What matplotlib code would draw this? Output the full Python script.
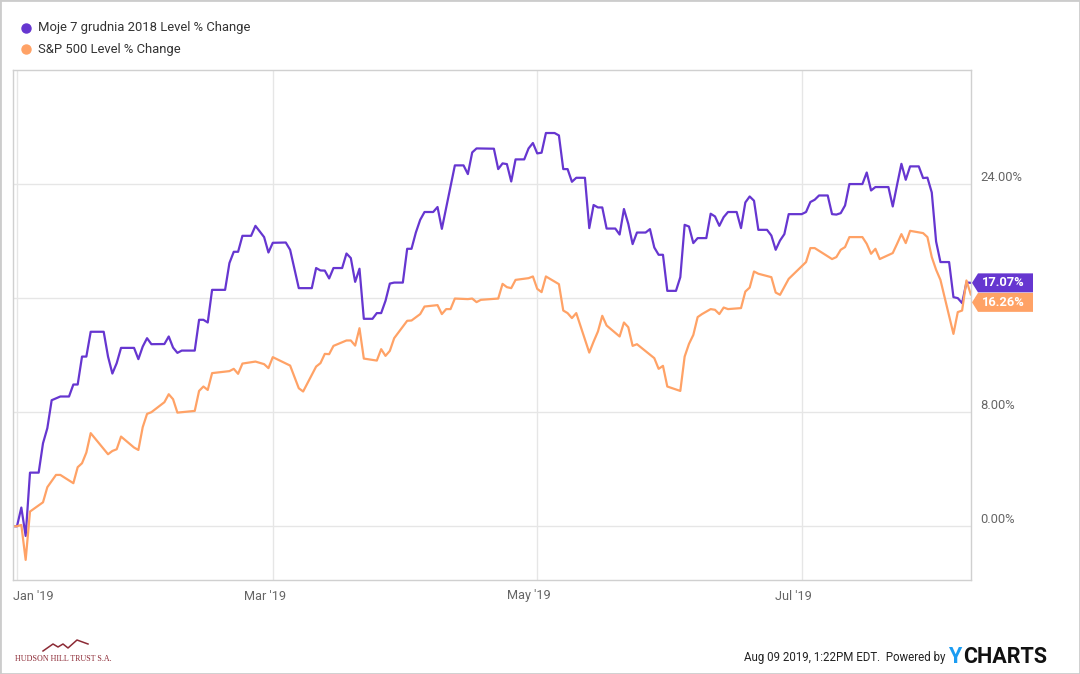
# Moje 7 grudnia 2018 vs S&P 500, % change since Dec 31 2018 (YCharts style)
import matplotlib.pyplot as plt
import matplotlib.dates as mdates
import matplotlib.transforms as mtransforms
from matplotlib.patches import Polygon, Rectangle
from matplotlib.lines import Line2D
import numpy as np

plt.rcParams['font.family'] = ['Roboto', 'DejaVu Sans']

# data: calendar day offsets from 2019-01-01 and % change
start = np.datetime64('2019-01-01')

moje_days = [-1, 0, 1, 2, 3, 5, 6, 7, 8, 10,
             12, 13, 14, 15, 16, 17, 20, 21, 22, 23,
             24, 27, 28, 29, 30, 31, 34, 35, 36, 37,
             38, 41, 42, 43, 44, 45, 48, 49, 50, 51,
             52, 54, 55, 57, 58, 59, 62, 63, 65, 68,
             69, 70, 71, 72, 73, 75, 76, 77, 78, 79,
             80, 82, 83, 84, 85, 86, 87, 89, 90, 91,
             92, 93, 94, 96, 97, 98, 99, 100, 101, 103,
             104, 105, 106, 110, 111, 112, 113, 114, 115, 117,
             118, 119, 120, 121, 122, 124, 125, 126, 127, 128,
             129, 131, 132, 133, 134, 135, 136, 138, 139, 140,
             141, 142, 143, 145, 146, 147, 148, 149, 150, 152,
             153, 154, 155, 156, 157, 159, 160, 161, 162, 163,
             164, 166, 167, 168, 169, 170, 171, 173, 174, 175,
             176, 177, 178, 181, 182, 183, 184, 185, 187, 188,
             189, 190, 191, 192, 195, 196, 197, 198, 201, 202,
             203, 204, 205, 206, 208, 209, 210, 211, 212, 213,
             215, 216, 217, 218, 219, 220]
moje_vals = [0.00, 0.00, 1.31, -0.68, 3.76, 3.76, 5.82, 6.88, 8.84, 9.10,
             9.10, 9.94, 9.94, 11.90, 11.90, 13.64, 13.64, 11.90, 10.71, 11.44,
             12.51, 12.51, 11.72, 12.60, 13.19, 12.77, 12.78, 13.31, 12.53, 12.16,
             12.32, 12.32, 14.48, 14.48, 14.29, 16.58, 16.58, 18.46, 19.25, 19.25,
             20.37, 20.37, 21.07, 20.28, 19.20, 19.88, 19.90, 19.39, 16.70, 16.70,
             18.11, 17.94, 17.93, 17.38, 18.11, 18.11, 19.13, 18.81, 17.14, 18.06,
             14.55, 14.55, 14.95, 14.95, 15.81, 17.02, 17.09, 17.09, 19.46, 19.46,
             20.60, 21.49, 22.04, 22.04, 22.39, 20.86, 22.36, 23.83, 25.31, 25.31,
             24.70, 26.22, 26.50, 26.48, 25.05, 25.45, 25.40, 24.18, 25.73, 25.73,
             26.50, 26.88, 26.15, 26.20, 27.58, 27.58, 27.41, 25.05, 25.05, 24.16,
             24.44, 24.44, 20.91, 22.53, 22.36, 22.36, 20.88, 20.88, 20.46, 22.25,
             21.21, 19.79, 20.60, 20.60, 20.84, 19.55, 19.04, 19.04, 16.51, 16.51,
             17.47, 21.14, 21.02, 19.86, 20.21, 20.21, 21.92, 21.73, 21.07, 21.68,
             22.04, 22.04, 20.91, 22.71, 23.13, 22.83, 20.79, 20.79, 20.39, 19.39,
             20.04, 20.49, 21.89, 21.89, 22.04, 22.74, 22.90, 23.20, 23.20, 21.89,
             21.86, 21.96, 22.50, 24.00, 24.00, 24.81, 23.55, 23.79, 23.79, 22.43,
             23.95, 25.42, 24.30, 25.24, 25.24, 24.42, 24.45, 23.41, 19.97, 18.53,
             18.53, 16.07, 16.00, 15.65, 17.10, 17.07]

spx_days = [-1, 0, 1, 2, 3, 6, 7, 9, 10, 13,
            14, 15, 16, 17, 21, 22, 23, 24, 27, 28,
            29, 30, 31, 34, 35, 36, 37, 41, 42, 43,
            44, 45, 49, 50, 51, 52, 55, 57, 58, 59,
            63, 65, 66, 69, 70, 71, 72, 73, 76, 77,
            78, 79, 80, 83, 84, 85, 86, 87, 90, 91,
            93, 94, 97, 98, 99, 100, 101, 104, 105, 106,
            107, 111, 112, 113, 114, 115, 118, 119, 120, 121,
            122, 125, 126, 127, 128, 129, 132, 133, 134, 135,
            136, 139, 140, 141, 142, 143, 147, 148, 149, 150,
            153, 154, 155, 156, 157, 158, 160, 161, 162, 163,
            164, 167, 168, 169, 170, 171, 174, 175, 176, 178,
            182, 183, 184, 188, 189, 190, 191, 192, 195, 196,
            197, 198, 199, 202, 203, 204, 205, 206, 209, 210,
            211, 212, 213, 216, 217, 218, 219, 220]
spx_vals = [0.00, 0.00, 0.09, -2.36, 1.03, 1.68, 2.74, 3.60, 3.60, 3.02,
            4.14, 4.42, 5.17, 6.53, 5.05, 5.28, 5.40, 6.29, 5.52, 5.35,
            6.95, 7.88, 8.00, 8.70, 9.26, 8.91, 7.97, 8.09, 9.49, 9.80,
            9.56, 10.74, 10.88, 11.04, 10.69, 11.41, 11.55, 11.37, 11.09, 11.86,
            11.27, 9.68, 9.45, 11.20, 11.44, 12.09, 12.07, 12.65, 13.03, 13.03,
            12.67, 13.89, 11.76, 11.62, 12.42, 11.95, 12.30, 13.19, 14.41, 14.43,
            14.88, 15.41, 15.51, 14.88, 15.23, 15.23, 15.97, 15.93, 15.97, 15.72,
            15.88, 15.97, 17.00, 16.77, 16.70, 17.28, 17.40, 17.52, 16.65, 16.42,
            17.52, 16.98, 15.13, 14.95, 14.60, 14.95, 12.18, 12.95, 13.66, 14.76,
            14.08, 13.31, 14.29, 13.96, 12.65, 12.77, 11.79, 11.04, 11.25, 9.80,
            9.49, 11.90, 12.79, 13.42, 14.67, 14.88, 15.23, 15.18, 14.88, 15.34,
            15.23, 15.30, 16.46, 16.74, 17.87, 17.71, 17.47, 16.39, 16.23, 17.35,
            18.53, 19.51, 19.51, 18.74, 18.88, 19.39, 19.58, 20.28, 20.28, 19.81,
            19.11, 19.46, 18.74, 19.16, 19.81, 20.49, 19.86, 20.72, 20.56, 20.28,
            18.88, 17.99, 17.28, 13.49, 15.02, 15.13, 17.24, 16.26]

series_names = ['Moje 7 grudnia 2018 Level % Change', 'S&P 500 Level % Change']
last_values = [17.07, 16.26]

x_tick_dates = ['2019-01-01', '2019-03-01', '2019-05-01', '2019-07-01']
x_tick_labels = ["Jan '19", "Mar '19", "May '19", "Jul '19"]
y_ticks = [0, 8, 16, 24]
y_tick_labels = ['0.00%', '8.00%', '', '24.00%']

PURPLE = '#6636d0'
ORANGE = '#ffa266'
GRID = '#e6e6e6'
TEXT_GRAY = '#666666'

W_PX, H_PX = 1080, 674
fig = plt.figure(figsize=(W_PX / 100, H_PX / 100), dpi=100)
ax = fig.add_axes([13 / W_PX, 94 / H_PX, 958 / W_PX, 510 / H_PX])

moje_x = start + np.array(moje_days).astype('timedelta64[D]')
spx_x = start + np.array(spx_days).astype('timedelta64[D]')
ax.plot(moje_x, moje_vals, color=PURPLE, lw=1.6, solid_joinstyle='round')
ax.plot(spx_x, spx_vals, color=ORANGE, lw=1.6, solid_joinstyle='round')

t0 = mdates.date2num(start)
ax.set_xlim(t0 - 0.92, t0 + 220.05)
ax.set_ylim(-3.77, 32.0)

# grid
ax.set_xticks([mdates.datestr2num(d) for d in x_tick_dates])
ax.set_yticks(y_ticks)
ax.grid(True, color=GRID, lw=1)
ax.tick_params(length=0, labelbottom=False, labelleft=False)
for s in ax.spines.values():
    s.set_color('#d0d0d0')
    s.set_linewidth(1)

# y labels on the right, sitting just above the grid lines
ytrans = mtransforms.offset_copy(ax.get_yaxis_transform(), fig=fig, x=9, y=7, units='dots')
for v, lab in zip(y_ticks, y_tick_labels):
    ax.text(1.0, v, lab, transform=ytrans, ha='left', va='center',
            fontsize=9.4, color=TEXT_GRAY, clip_on=False)

# x labels
for i, (d, lab) in enumerate(zip(x_tick_dates, x_tick_labels)):
    if i == 0:
        tr = mtransforms.offset_copy(ax.get_xaxis_transform(), fig=fig, x=-4, y=-16, units='dots')
        ha = 'left'
    else:
        tr = mtransforms.offset_copy(ax.get_xaxis_transform(), fig=fig, x=-8, y=-16, units='dots')
        ha = 'center'
    ax.text(mdates.datestr2num(d), 0, lab, transform=tr, ha=ha, va='center',
            fontsize=9.2, color=TEXT_GRAY, clip_on=False)

# legend
for i, (name, col) in enumerate(zip(series_names, [PURPLE, ORANGE])):
    yf = 1 - (28 + 21 * i) / H_PX
    fig.add_artist(Line2D([26 / W_PX], [yf], marker='o', ms=6.5, color=col,
                          transform=fig.transFigure))
    fig.text(38 / W_PX, yf, name, va='center', ha='left', fontsize=9.4, color='#333333')

# end-value tags
yc = [ax.transData.transform((0, v))[1] for v in last_values]
if yc[0] - yc[1] < 19.5:
    yc[1] = yc[0] - 19.5
x_tip = ax.bbox.x1 + 1
for val, col, y in zip(last_values, [PURPLE, ORANGE], yc):
    h = 9.5
    pts = [(x_tip, y), (x_tip + 6, y + h), (x_tip + 61, y + h),
           (x_tip + 61, y - h), (x_tip + 6, y - h)]
    fig.add_artist(Polygon([(px / W_PX, py / H_PX) for px, py in pts], closed=True,
                           transform=fig.transFigure, facecolor=col, edgecolor='none'))
    fig.text((x_tip + 31) / W_PX, y / H_PX, f'{val:.2f}%', ha='center', va='center',
             fontsize=9.3, fontweight='bold', color='white')

# footer
fig.text(946 / W_PX, 1 - 658 / H_PX, 'Aug 09 2019, 1:22PM EDT.  Powered by',
         ha='right', va='center', fontsize=8.3, color='#222222')
fig.text(948 / W_PX, 1 - 657 / H_PX, 'Y', ha='left', va='center', fontsize=15.5,
         fontweight='bold', color='#1b9cf2')
fig.text(963 / W_PX, 1 - 657 / H_PX, 'CHARTS', ha='left', va='center', fontsize=15.5,
         fontweight='bold', color='#111111')

# Hudson Hill Trust logo
logo_x = [43, 53, 58, 63, 68, 77, 88]
logo_y = [651, 644, 647, 644, 648, 640, 644]
fig.add_artist(Line2D([x / W_PX for x in logo_x], [1 - y / H_PX for y in logo_y],
                      color='#8c2a35', lw=1.1, transform=fig.transFigure))
fig.text(15 / W_PX, 1 - 659 / H_PX, 'HUDSON HILL TRUST S.A.', ha='left', va='center',
         fontsize=5.8, color='#8c2a35', family=['Liberation Serif', 'DejaVu Serif'])

# outer frame
fig.add_artist(Rectangle((0, 0), 1, 1, transform=fig.transFigure, fill=False,
                         edgecolor='#cccccc', lw=2))

fig.savefig('out.png', dpi=100)
